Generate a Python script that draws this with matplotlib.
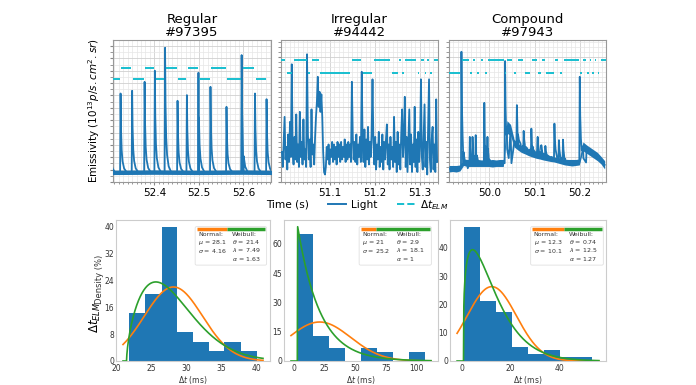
import numpy as np
import matplotlib
matplotlib.use("Agg")
import matplotlib.pyplot as plt
from matplotlib.ticker import MultipleLocator, AutoMinorLocator
from matplotlib.patches import FancyBboxPatch
from matplotlib.lines import Line2D

# ---------------------------------------------------------------- data
titles = ["Regular\n#97395", "Irregular\n#94442", "Compound\n#97943"]
time_ticks = [[52.4, 52.5, 52.6], [51.1, 51.2, 51.3], [50.0, 50.1, 50.2]]

# Regular shot: ELM peak times (s) and peak emissivity (arb. units)
reg_peak_t = [52.298, 52.324, 52.350, 52.378, 52.401, 52.424, 52.452, 52.473,
              52.499, 52.526, 52.562, 52.596, 52.626, 52.652]
reg_peak_v = [7.0, 7.16, 7.38, 8.1, 9.0, 10.86, 6.57, 7.03, 8.84, 7.7, 6.08,
              10.27, 7.16, 6.7]
reg_band_t = [52.300, 52.400, 52.500, 52.600, 52.665]
reg_band_lo = [0.60, 0.62, 0.60, 0.62, 0.60]
reg_band_hi = [0.95, 0.98, 0.95, 0.98, 0.95]

# Irregular shot: emissivity sampled every 2 ms from 50.993 s
irr_t0, irr_dt = 50.993, 0.002
irr_v = [1.2, 0.6, 1.6, 2.6, 0.9, 1.4, 0.5, 1.9, 0.8, 2.4, 1.0,
         4.7, 1.2, 0.7, 1.8, 0.9, 2.7, 0.8, 1.5, 0.6, 2.8, 1.0, 1.6, 0.7, 2.5, 0.9, 1.3, 0.6,
         5.1, 1.9,
         0.9, 1.7, 0.6, 2.9, 1.1, 1.5, 0.7, 1.8,
         2.6, 3.2, 4.2, 3.0, 3.6, 2.8, 3.5, 2.6,
         1.2, 0.4, 0.3,
         0.6, 1.4, 0.9, 1.5, 0.7, 1.3, 1.0, 1.6, 0.8, 1.5, 0.9, 1.4, 0.7, 1.6, 1.0,
         1.5, 0.8, 1.6, 0.9, 1.4, 1.0, 1.7, 0.8, 1.5, 0.9, 1.6, 1.0, 1.5, 0.8,
         4.0, 1.8,
         0.9, 1.6, 0.8, 1.9, 0.7, 1.5, 1.0, 1.8, 0.8,
         4.4, 1.5,
         0.8, 2.1, 0.6, 1.7, 0.9, 2.2, 0.7, 1.6, 1.0, 1.9,
         4.1, 1.6,
         0.7, 1.8, 0.5, 1.5, 0.9, 2.0, 0.6, 1.4, 0.8, 1.9, 0.5, 1.6, 0.9, 1.7,
         2.3, 0.7, 1.5, 0.5, 1.8, 0.9, 1.4, 0.6,
         2.6, 0.8, 1.6, 0.4, 2.0, 0.7, 1.5, 0.5, 1.9,
         2.9, 1.0, 1.7, 3.4, 0.6, 1.8, 0.4, 1.6,
         2.9, 0.7, 1.9, 0.4, 1.5, 0.8, 3.0, 0.6, 1.7,
         0.4, 2.0, 0.8, 1.5, 4.1, 1.0, 0.5, 1.8, 3.1,
         0.6, 1.6, 0.3, 2.1, 4.1, 0.9, 0.4, 1.7,
         2.2, 0.5, 1.5, 0.4, 3.3, 0.8]

# Compound shot: noise band (every 8 ms from 49.911 s) plus ELM peaks
comp_t0, comp_dt = 49.911, 0.008
comp_band_lo = [0.40, 0.42, 0.40, 0.44, 0.66, 0.62, 0.62, 0.62, 0.62, 0.62, 0.62,
                0.62, 0.60, 0.62, 0.62, 0.62, 1.95, 1.85, 1.40, 1.28, 1.18, 1.12,
                1.05, 1.00, 0.95, 0.92, 0.88, 0.85, 0.82, 0.80, 0.76, 0.72, 0.68,
                0.66, 0.64, 0.66, 0.68, 1.25, 1.15, 1.05, 0.95, 0.85, 0.72, 0.52]
comp_band_hi = [0.66, 0.66, 0.66, 0.68, 0.92, 0.90, 0.90, 0.88, 0.90, 0.88, 0.90,
                0.88, 0.90, 0.88, 0.90, 0.90, 2.45, 2.30, 1.70, 1.55, 1.45, 1.38,
                1.32, 1.27, 1.22, 1.18, 1.13, 1.08, 1.05, 1.00, 0.98, 0.94, 0.91,
                0.90, 0.90, 0.90, 0.92, 1.60, 1.48, 1.38, 1.28, 1.18, 1.02, 0.85]
comp_peak_t = [49.9385, 49.957, 49.963, 49.970, 49.989, 49.996, 50.035, 50.061,
               50.076, 50.093, 50.107, 50.115, 50.124, 50.144, 50.154, 50.163, 50.200]
comp_peak_v = [5.2, 1.8, 1.8, 1.87, 3.16, 1.8, 4.83, 3.07, 2.04, 2.13, 1.8, 1.47,
               1.44, 2.33, 1.67, 1.69, 4.2]
comp_peak_b = [0.55, 0.75, 0.75, 0.75, 0.75, 0.75, 0.75, 1.45, 1.3, 1.15, 1.1, 1.05,
               1.0, 0.9, 0.85, 0.8, 0.78]

# ELM times used for the Delta t_ELM bars
reg_elm = reg_peak_t
irr_elm = [50.990, 51.003, 51.017, 51.050, 51.058, 51.077, 51.147, 51.171, 51.196,
           51.237, 51.253, 51.260, 51.266, 51.295, 51.300, 51.311, 51.315, 51.322,
           51.330, 51.345]
comp_elm = [49.905, 49.938, 49.957, 49.963, 49.970, 49.980, 49.989, 49.996, 50.035,
            50.037, 50.052, 50.061, 50.076, 50.093, 50.107, 50.115, 50.124, 50.144,
            50.154, 50.163, 50.200, 50.205, 50.215, 50.221, 50.226, 50.232, 50.238,
            50.245, 50.262]
# (level of first interval, level of second interval)
dt_levels = [(8.32, 9.24), (4.87, 4.37), (4.37, 4.87)]
top_xlims = [(52.307, 52.662), (50.991, 51.341), (49.911, 50.258)]
top_ylims = [(0, 11.49), (0, 5.67), (0, 5.67)]

# Histograms of Delta t_ELM (%), bin edges in ms
hist_edges = [[21.8, 24.1, 26.4, 28.6, 30.9, 33.2, 35.4, 37.7, 40.0],
              [2.9, 15.5, 28.4, 41.6, 55.0, 67.8, 80.7, 93.6, 106.4],
              [0.74, 7.4, 14.0, 20.5, 27.3, 33.8, 40.4, 47.0, 53.5]]
hist_pct = [[14.3, 20.0, 40.0, 8.6, 5.7, 2.9, 5.7, 2.9],
            [65.2, 13.0, 6.5, 0.0, 6.5, 4.35, 0.0, 4.35],
            [47.5, 21.4, 17.5, 4.9, 2.6, 3.8, 1.4, 1.3]]
norm_mu = [28.1, 21.0, 12.3]
norm_sigma = [4.16, 25.2, 10.1]
wb_theta = [21.4, 2.9, 0.74]
wb_lambda = [7.49, 18.1, 12.5]
wb_alpha = [1.63, 1.0, 1.27]
hist_xticks = [[20, 25, 30, 35, 40], [0, 25, 50, 75, 100], [0, 20, 40]]
hist_yticks = [[0, 8, 16, 24, 32, 40], [0, 15, 30, 45, 60], [0, 10, 20, 30, 40]]

# ---------------------------------------------------------------- style
BLUE, CYAN, ORANGE, GREEN = "#1f77b4", "#17becf", "#ff7f0e", "#2ca02c"
PULSE_OFF = np.array([-0.001, 0.0, 0.001, 0.0025, 0.0045, 0.008, 0.014])
PULSE_FR = np.array([0.0, 1.0, 0.55, 0.28, 0.14, 0.05, 0.0])

plt.rcParams["font.family"] = ["DejaVu Sans"]
fig = plt.figure(figsize=(6.96, 3.85), dpi=100)
W, H = 696.0, 385.0


def rect(x0, x1, y0, y1):
    return [x0 / W, 1 - y1 / H, (x1 - x0) / W, (y1 - y0) / H]


def pulse_trace(knot_t, knot_v, pk_t, pk_v, pk_b):
    ts = list(knot_t)
    vs = list(knot_v)
    for t, v, b in zip(pk_t, pk_v, pk_b):
        ts += list(t + PULSE_OFF)
        vs += list(b + (v - b) * PULSE_FR)
    order = np.argsort(ts, kind="stable")
    return np.asarray(ts)[order], np.asarray(vs)[order]


reg_mid = (np.asarray(reg_band_lo) + np.asarray(reg_band_hi)) / 2
comp_band_t = comp_t0 + comp_dt * np.arange(len(comp_band_lo))
comp_mid = (np.asarray(comp_band_lo) + np.asarray(comp_band_hi)) / 2

traces = [
    pulse_trace(reg_band_t, reg_mid, reg_peak_t, reg_peak_v, [reg_mid[0]] * len(reg_peak_t)),
    (irr_t0 + irr_dt * np.arange(len(irr_v)), np.asarray(irr_v)),
    pulse_trace(comp_band_t, comp_mid, comp_peak_t, comp_peak_v, comp_peak_b),
]
bands = [(reg_band_t, reg_band_lo, reg_band_hi), None,
         (comp_band_t, comp_band_lo, comp_band_hi)]
elms = [reg_elm, irr_elm, comp_elm]

top_rects = [rect(113, 271, 40, 182), rect(281, 438, 40, 182), rect(449, 606, 40, 182)]
minor_y = [2, 5, 5]

for i in range(3):
    ax = fig.add_axes(top_rects[i])
    t, v = traces[i]
    if bands[i] is not None:
        bt, blo, bhi = bands[i]
        ax.fill_between(bt, blo, bhi, color=BLUE, lw=0, zorder=3)
    ax.plot(t, v, color=BLUE, lw=1.3, zorder=3)
    e = np.asarray(elms[i])
    starts, ends = e[:-1], e[1:]
    gap = np.minimum(0.002, 0.2 * (ends - starts))
    first, second = dt_levels[i]
    lev = np.where(np.arange(len(starts)) % 2 == 0, first, second)
    ax.hlines(lev, starts + gap, ends - gap, color=CYAN, lw=1.4, zorder=4)
    ax.set_xlim(*top_xlims[i])
    ax.set_ylim(*top_ylims[i])
    ax.set_xticks(time_ticks[i])
    ax.set_xticklabels([f"{x:.1f}" for x in time_ticks[i]])
    ax.xaxis.set_minor_locator(MultipleLocator(0.01))
    ax.yaxis.set_major_locator(MultipleLocator(1))
    ax.yaxis.set_minor_locator(AutoMinorLocator(minor_y[i]))
    ax.grid(True, which="major", color="#d0d0d0", lw=0.6)
    ax.grid(True, which="minor", color="#e6e6e6", lw=0.5)
    ax.tick_params(axis="y", which="both", labelleft=False, length=2, color="#888888")
    ax.tick_params(axis="x", which="major", labelsize=7.5, length=2.5, pad=2,
                   color="#888888")
    ax.tick_params(axis="x", which="minor", length=1.5, color="#888888")
    for s in ax.spines.values():
        s.set_color("#999999")
        s.set_linewidth(0.8)
    ax.set_title(titles[i], fontsize=9.5, pad=3, linespacing=1.0)
    if i == 0:
        ax.set_ylabel(r"Emissivity ($10^{13} p/s.cm^2.sr$)", fontsize=7.5, labelpad=6)

fig.text(288 / W, 1 - 205 / H, "Time (s)", fontsize=7.6, ha="center", va="center")
handles = [Line2D([], [], color=BLUE, lw=1.4), Line2D([], [], color=CYAN, lw=1.4, ls="--")]
fig.legend(handles, ["Light", r"$\Delta t_{ELM}$"], loc="center left",
           bbox_to_anchor=(326 / W, 1 - 205 / H), ncol=2, frameon=False, fontsize=7.6,
           handlelength=1.7, handletextpad=0.5, columnspacing=1.8, borderpad=0.2,
           borderaxespad=0)

bot_rects = [rect(116, 270, 220, 361), rect(284, 438, 220, 361), rect(450, 606, 220, 361)]
leg_box = [(0.514, 0.978), (0.488, 0.957), (0.517, 0.983)]
leg_split = [0.72, 0.60, 0.73]
leg_wx = [0.75, 0.73, 0.76]

for i in range(3):
    ax = fig.add_axes(bot_rects[i])
    edges = np.asarray(hist_edges[i])
    ax.bar(edges[:-1], hist_pct[i], width=np.diff(edges), align="edge",
           color=BLUE, zorder=2)
    bw = edges[1] - edges[0]
    rng = edges[-1] - edges[0]
    x = np.linspace(edges[0] - 0.05 * rng, edges[-1] + 0.05 * rng, 400)
    npdf = np.exp(-0.5 * ((x - norm_mu[i]) / norm_sigma[i]) ** 2) / (
        norm_sigma[i] * np.sqrt(2 * np.pi))
    z = np.clip((x - wb_theta[i]) / wb_lambda[i], 0, None)
    wpdf = np.where(x >= wb_theta[i],
                    wb_alpha[i] / wb_lambda[i] * z ** (wb_alpha[i] - 1) * np.exp(-z ** wb_alpha[i]),
                    0.0)
    ax.plot(x, npdf * bw * 100, color=ORANGE, lw=1.2, zorder=3)
    ax.plot(x, wpdf * bw * 100, color=GREEN, lw=1.2, zorder=4)
    ax.set_xticks(hist_xticks[i])
    ax.set_yticks(hist_yticks[i])
    ax.tick_params(axis="y", labelsize=5.5, length=0, pad=1.5, labelcolor="#333333")
    ax.tick_params(axis="x", labelsize=5.5, length=0, pad=2.5, labelcolor="#333333")
    for s in ax.spines.values():
        s.set_color("#cccccc")
        s.set_linewidth(0.8)
    ax.set_xlabel(r"$\Delta t$ (ms)", fontsize=5.5, labelpad=0.5, color="#333333")
    # fit legend box
    bl, br = leg_box[i]
    ax.add_patch(FancyBboxPatch((bl, 0.68), br - bl, 0.273, transform=ax.transAxes,
                                boxstyle="round,pad=0,rounding_size=0.01",
                                fc="white", ec="#dddddd", lw=0.6, alpha=0.9, zorder=5))
    ax.plot([bl + 0.01, leg_split[i]], [0.936, 0.936], transform=ax.transAxes,
            color=ORANGE, lw=2.5, solid_capstyle="butt", zorder=6)
    ax.plot([leg_split[i], br - 0.01], [0.936, 0.936], transform=ax.transAxes,
            color=GREEN, lw=2.5, solid_capstyle="butt", zorder=6)
    ax.text(bl + 0.02, 0.915, "Normal:\n" + rf"$\mu$ = {norm_mu[i]:g}" + "\n"
            + rf"$\sigma$ = {norm_sigma[i]:g}", transform=ax.transAxes, fontsize=4.5,
            va="top", ha="left", color="#333333", zorder=7, linespacing=1.1)
    ax.text(leg_wx[i], 0.915, "Weibull:\n" + rf"$\theta$ = {wb_theta[i]:g}" + "\n"
            + rf"$\lambda$ = {wb_lambda[i]:g}" + "\n" + rf"$\alpha$ = {wb_alpha[i]:g}",
            transform=ax.transAxes, fontsize=4.5, va="top", ha="left", color="#333333",
            zorder=7, linespacing=1.1)
    if i == 0:
        ax.text(-0.105, 0.58, "Density (%)", transform=ax.transAxes, rotation=90,
                fontsize=6, ha="center", va="center", color="#333333")
        ax.text(-0.135, 0.31, r"$\Delta t_{ELM}$", transform=ax.transAxes, rotation=90,
                fontsize=8.5, ha="center", va="center")

fig.savefig("out.png", dpi=100)
